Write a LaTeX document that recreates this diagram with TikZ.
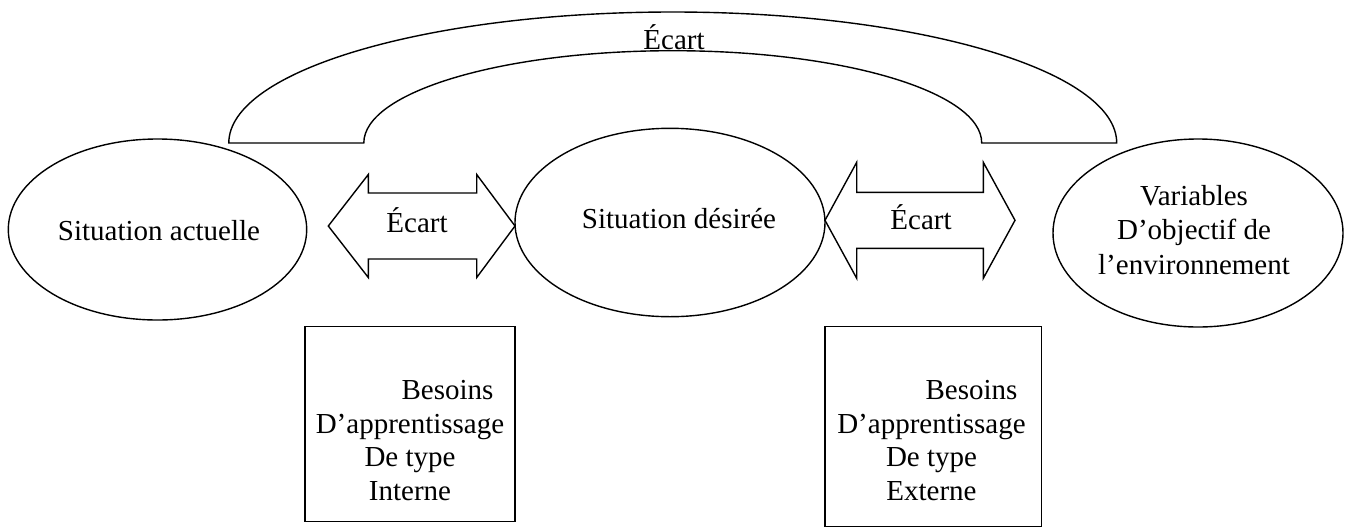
\documentclass[tikz,border=0pt]{standalone}
\usepackage{fontspec}
\setmainfont{Liberation Serif}
\usetikzlibrary{shapes.geometric}
\begin{document}
\begin{tikzpicture}[x=1pt,y=-1pt, line width=1.4pt,
  ell/.style={draw, ellipse, inner sep=0pt},
  box/.style={draw, rectangle, inner sep=0pt},
  lbl/.style={inner sep=0pt, font=\fontsize{29}{33.5}\selectfont},
  mlbl/.style={lbl, align=center},
  blockarrow/.style={draw, line join=miter},
  blockarc/.style={draw, line join=miter}]
\useasboundingbox (0,0) rectangle (1346,528);

% ellipses
\node[ell, minimum width=298.4pt, minimum height=181pt] (actual) at (157.5,229.5) {};
\node[ell, minimum width=310pt, minimum height=188.4pt] (desired) at (670,222.5) {};
\node[ell, minimum width=290pt, minimum height=188pt] (env) at (1198,233) {};

% top block arc
\draw[blockarc] (228.8,143) coordinate (arcOL)
  arc[start angle=180, end angle=360, x radius=443.95, y radius=131] coordinate (arcOR)
  -- (981.7,143) coordinate (arcIR)
  arc[start angle=0, end angle=-180, x radius=308.95, y radius=92.3] coordinate (arcIL)
  -- cycle;

% left double arrow
\draw[blockarrow] (328.3,226) coordinate (laL) -- (368.3,174.5) -- (368.3,193) -- (476.7,193)
  -- (476.7,174.5) -- (515,226) coordinate (laR) -- (476.7,277.5) -- (476.7,259)
  -- (368.3,259) -- (368.3,277.5) -- cycle;

% right double arrow
\draw[blockarrow] (825,220.3) coordinate (raL) -- (856.7,162.3) -- (856.7,192.3) -- (983.3,192.3)
  -- (983.3,162.3) -- (1015,220.3) coordinate (raR) -- (983.3,278.3) -- (983.3,248.3)
  -- (856.7,248.3) -- (856.7,278.3) -- cycle;

% boxes
\node[box, minimum width=210pt, minimum height=195pt] (internal) at (410,424.2) {};
\node[box, minimum width=216.7pt, minimum height=200pt] (external) at (933.3,426.7) {};

% texts
\node[lbl, anchor=base] (gapTop) at (674,49) {Écart};
\node[lbl, anchor=base] (gapL) at (417,232.7) {Écart};
\node[lbl, anchor=base] (gapR) at (921,229.3) {Écart};
\node[lbl, anchor=base] (actualTxt) at (159,240) {Situation actuelle};
\node[lbl, anchor=base] (desiredTxt) at (679,228.3) {Situation désirée};
\node[mlbl, font=\fontsize{29}{34.5}\selectfont] (envTxt) at (1194,229.6) {Variables\\D’objectif de\\l’environnement};
\node[mlbl] (internalTxt) at (410,440.6) {\hspace*{75pt}Besoins\\D’apprentissage\\De type\\Interne};
\node[mlbl] (externalTxt) at (931.5,440.7) {\hspace*{80pt}Besoins\\D’apprentissage\\De type\\Externe};
\end{tikzpicture}
\end{document}
